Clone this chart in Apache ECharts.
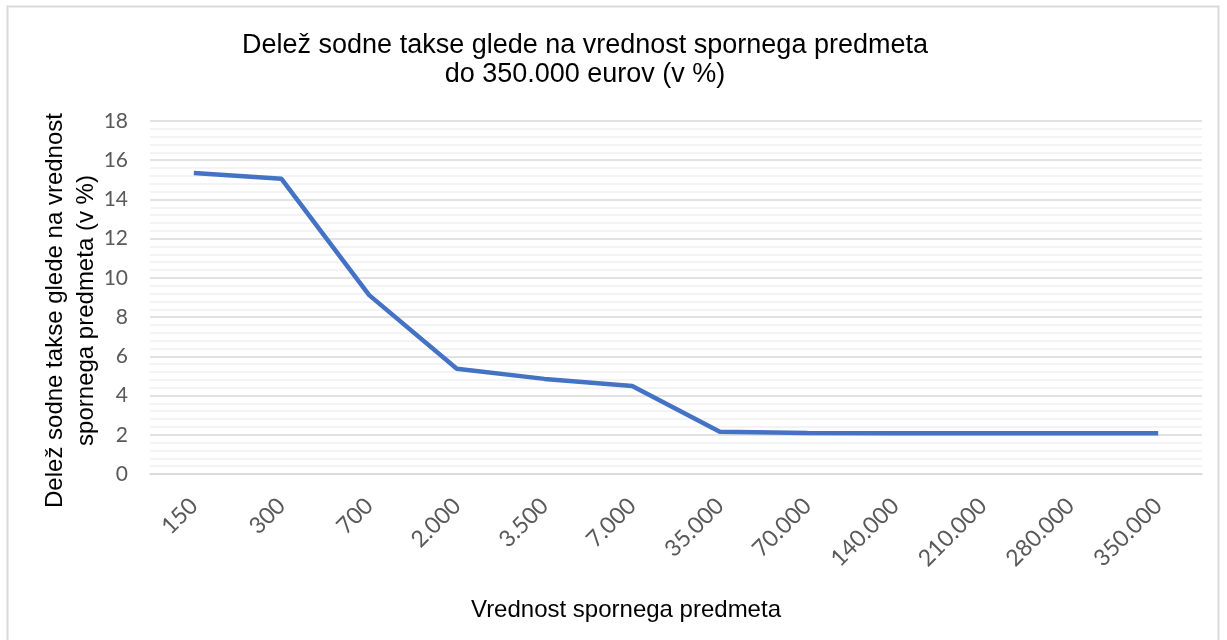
<!DOCTYPE html>
<html>
<head>
<meta charset="utf-8">
<script src="https://cdn.jsdelivr.net/npm/echarts@6/dist/echarts.min.js"></script>
<style>
  html, body { margin: 0; padding: 0; background: #fff; }
  #chart { width: 1227px; height: 640px; }
</style>
</head>
<body>
<div id="chart"></div>
<script>
// vrednost spornega predmeta (EUR)
var categories = ['150', '300', '700', '2.000', '3.500', '7.000', '35.000', '70.000', '140.000', '210.000', '280.000', '350.000'];
// delež sodne takse (v %)
var shares = [15.35, 15.05, 9.12, 5.37, 4.85, 4.49, 2.16, 2.09, 2.08, 2.08, 2.08, 2.08];

var chart = echarts.init(document.getElementById('chart'));

var option = {
    backgroundColor: '#fff',
    animation: false,
    title: {
        text: 'Delež sodne takse glede na vrednost spornega predmeta\ndo 350.000 eurov (v %)',
        left: 580,
        top: 26,
        textAlign: 'center',
        textStyle: {
            fontFamily: 'Liberation Sans',
            fontWeight: 'normal',
            fontSize: 27,
            lineHeight: 29,
            color: '#000'
        }
    },
    graphic: [{
        type: 'rect',
        shape: { x: 7.5, y: 6.5, width: 1211, height: 660 },
        style: { fill: 'none', stroke: '#d9d9d9', lineWidth: 2 },
        silent: true
    }],
    grid: {
        left: 150,
        right: 25,
        top: 121,
        bottom: 166
    },
    xAxis: {
        type: 'category',
        data: categories,
        boundaryGap: true,
        name: 'Vrednost spornega predmeta',
        nameLocation: 'middle',
        nameGap: 124,
        nameMoveOverlap: false,
        nameTextStyle: {
            fontFamily: 'Liberation Sans',
            fontSize: 24,
            color: '#000',
            padding: [0, 100, 0, 0]
        },
        axisLine: { lineStyle: { color: '#d9d9d9', width: 1.5 } },
        axisTick: { show: false },
        axisLabel: {
            rotate: 45,
            margin: 28,
            fontFamily: 'Lato',
            fontSize: 23,
            color: '#595959'
        }
    },
    yAxis: {
        type: 'value',
        min: 0,
        max: 18,
        interval: 2,
        name: 'Delež sodne takse glede na vrednost\nspornega predmeta (v %)',
        nameLocation: 'middle',
        nameRotate: 90,
        nameGap: 48,
        nameMoveOverlap: false,
        nameTextStyle: {
            fontFamily: 'Liberation Sans',
            fontSize: 24,
            lineHeight: 31,
            color: '#000',
            padding: [0, 26, 0, 0]
        },
        axisLine: { show: false },
        axisTick: { show: false },
        axisLabel: {
            margin: 22,
            fontFamily: 'Lato',
            fontSize: 21,
            color: '#595959'
        },
        splitLine: { lineStyle: { color: '#d9d9d9', width: 1.5 } },
        minorTick: { show: false, splitNumber: 5 },
        minorSplitLine: { show: true, lineStyle: { color: '#f0f0f0', width: 1.5 } }
    },
    series: [{
        type: 'line',
        data: shares,
        showSymbol: false,
        lineStyle: { color: '#4472c4', width: 4.5 },
        itemStyle: { color: '#4472c4' }
    }]
};

chart.setOption(option);
</script>
</body>
</html>
